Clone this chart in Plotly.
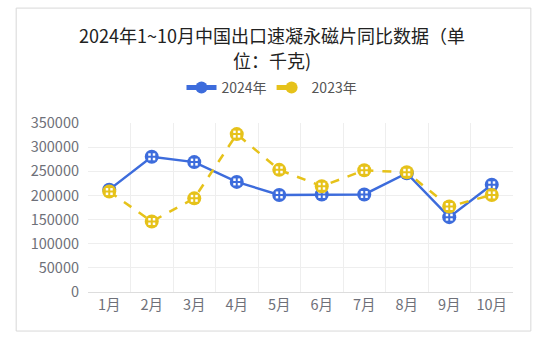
import plotly.graph_objects as go

months = ["1月", "2月", "3月", "4月", "5月", "6月", "7月", "8月", "9月", "10月"]
v2024 = [212000, 280000, 269000, 228000, 201000, 202000, 202000, 246000, 155000, 222000]
v2023 = [208000, 146000, 194000, 327000, 253000, 219000, 252000, 248000, 177000, 201000]
series_names = ["2024年", "2023年"]
title_lines = ["2024年1~10月中国出口速凝永磁片同比数据（单", "位：千克)"]

blue = "#3d6cdc"
yellow = "#e6c21a"
font = "Noto Sans CJK SC, Microsoft YaHei, sans-serif"

fig = go.Figure()

def add_series(name, vals, color, dash):
    fig.add_trace(go.Scatter(
        x=months, y=vals, name=name, mode="lines+markers",
        line=dict(color=color, width=2.5, dash=dash),
        marker=dict(symbol="circle", size=14, color=color, line=dict(width=0)),
        legendgroup=name,
    ))
    fig.add_trace(go.Scatter(
        x=months, y=vals, mode="markers", showlegend=False, hoverinfo="skip",
        marker=dict(symbol="square", size=7, color="white", line=dict(width=0)),
        legendgroup=name,
    ))
    fig.add_trace(go.Scatter(
        x=months, y=vals, mode="markers", showlegend=False, hoverinfo="skip",
        marker=dict(symbol="cross-thin", size=7, color=color, line=dict(width=2, color=color)),
        legendgroup=name,
    ))

add_series(series_names[0], v2024, blue, "solid")
add_series(series_names[1], v2023, yellow, "dash")

H = 352
annotations = []
for txt, ypix in zip(title_lines, [35, 60]):
    annotations.append(dict(
        text=txt, xref="paper", yref="paper", x=(272 - 88) / 425, y=(292 - ypix) / 169,
        xanchor="center", yanchor="middle", showarrow=False, borderpad=0,
        font=dict(size=18, color="#222", family=font),
    ))

fig.update_layout(
    width=545, height=H,
    margin=dict(l=88, r=32, t=123, b=60),
    paper_bgcolor="white", plot_bgcolor="white",
    font=dict(family=font, color="#6e7079", size=14),
    annotations=annotations,
    legend=dict(
        orientation="h", x=(272 - 88) / 425, xanchor="center", y=1.207, yanchor="middle",
        font=dict(size=14, color="#555"), itemsizing="constant",
    ),
    showlegend=True,
    xaxis=dict(
        type="category", range=[-0.5, 9.5], tickson="boundaries", showgrid=True,
        gridcolor="#eeeeee", showline=True, linecolor="#dddddd", ticks="",
        tickfont=dict(size=14.5, color="#6e7079"),
    ),
    yaxis=dict(
        range=[0, 350000], dtick=50000, tickformat="d", showgrid=True, gridcolor="#eeeeee",
        zeroline=False, showline=False, ticks="", ticklabelstandoff=8,
        tickfont=dict(size=14.5, color="#6e7079"),
    ),
    shapes=[dict(
        type="rect", xref="paper", yref="paper",
        x0=-0.169, x1=1.042, y0=-0.231, y1=1.68,
        line=dict(color="#d8d8d8", width=1), layer="below",
    )],
)

fig.write_html("out.html")
